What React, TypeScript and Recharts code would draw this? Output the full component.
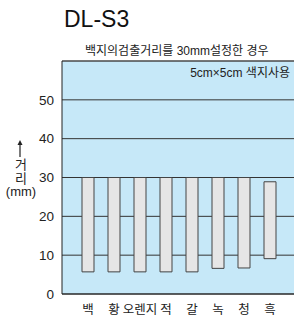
import React from "react";
import { BarChart, Bar, XAxis, YAxis, CartesianGrid, ReferenceLine } from "recharts";

const categories = ["백", "황", "오렌지", "적", "갈", "녹", "청", "흑"];
const lows = [5.7, 5.7, 5.7, 5.7, 5.7, 6.6, 6.7, 9.1];
const highs = [30, 30, 30, 30, 30, 30, 30, 28.9];
const yTicks = [0, 10, 20, 30, 40, 50];

const data = categories.map((name, i) => ({ name, range: [lows[i], highs[i]] }));

const font = '"Liberation Sans", "Noto Sans CJK KR", sans-serif';

const App: React.FC = () => {
    return (
        <div style={{ position: "absolute", left: 0, top: 0, width: 294, height: 320, fontFamily: font, background: "#fff" }}>
            <BarChart width={294} height={320} data={data} margin={{ top: 61, right: 0, bottom: 0, left: 0 }}>
                <CartesianGrid vertical={false} fill="#c6e8f8" stroke="#333" strokeOpacity={1} />
                <ReferenceLine y={60} stroke="#555" />
                <XAxis
                    dataKey="name"
                    height={26}
                    padding={{ left: 13, right: 11 }}
                    tickLine={false}
                    tickMargin={5}
                    axisLine={{ stroke: "#222" }}
                    tick={{ fill: "#222", fontSize: 12.5, fontFamily: font }}
                    interval={0}
                />
                <YAxis
                    width={62}
                    domain={[0, 60]}
                    ticks={yTicks}
                    tickLine={false}
                    axisLine={{ stroke: "#222" }}
                    tick={{ fill: "#222", fontSize: 13.5, fontFamily: font }}
                />
                <Bar dataKey="range" barSize={12} fill="#e6e6e6" stroke="#444" strokeWidth={1} isAnimationActive={false} />
            </BarChart>
            <div style={{ position: "absolute", left: 64, top: 6, fontSize: 23, color: "#111" }}>DL-S3</div>
            <div style={{ position: "absolute", left: 85, top: 41, fontSize: 12, color: "#222", whiteSpace: "nowrap" }}>
                백지의검출거리를 30mm설정한 경우
            </div>
            <div style={{ position: "absolute", right: 4, top: 63, fontSize: 12, color: "#222", whiteSpace: "nowrap" }}>5cm×5cm 색지사용</div>
            <svg style={{ position: "absolute", left: 16, top: 140 }} width={8} height={18}>
                <line x1={4} y1={2} x2={4} y2={17} stroke="#222" strokeWidth={1.2} />
                <path d="M4 0 L1.5 5 L6.5 5 Z" fill="#222" />
            </svg>
            <div style={{ position: "absolute", left: 0, width: 42, top: 158, textAlign: "center", fontSize: 13, lineHeight: "13.5px", color: "#222" }}>
                <div>거</div>
                <div>리</div>
                <div>(mm)</div>
            </div>
        </div>
    );
};

export default App;
